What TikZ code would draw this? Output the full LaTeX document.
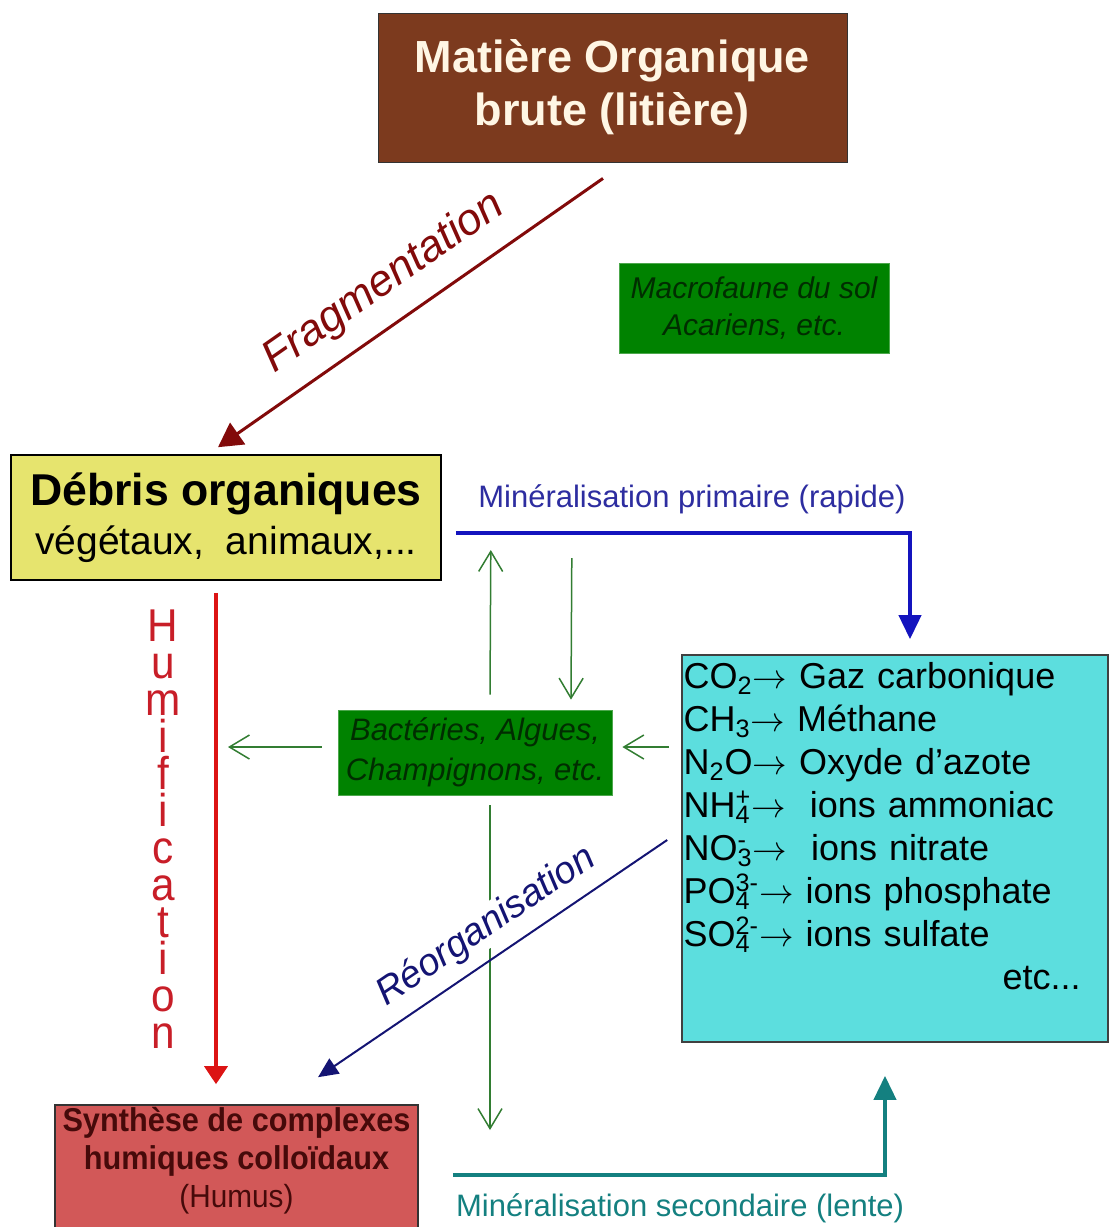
\documentclass[tikz,border=0pt]{standalone}
\usepackage{fontspec}
\setmainfont{Liberation Sans}
\newfontfamily\etroite[FakeStretch=0.92]{Liberation Sans}
\newfontfamily\serree[FakeStretch=0.93]{Liberation Sans}
\usetikzlibrary{arrows.meta,positioning}

\definecolor{brunMO}{RGB}{124,58,30}
\definecolor{cremeMO}{RGB}{255,246,228}
\definecolor{jauneDeb}{RGB}{230,228,110}
\definecolor{vertFaune}{RGB}{0,130,0}
\definecolor{vertTexte}{RGB}{0,45,0}
\definecolor{vertFin}{RGB}{50,125,50}
\definecolor{cyanMin}{RGB}{92,222,222}
\definecolor{rougeHum}{RGB}{210,88,88}
\definecolor{brunHum}{RGB}{70,10,10}
\definecolor{rougeFleche}{RGB}{220,20,20}
\definecolor{rougeTexte}{RGB}{200,30,40}
\definecolor{bordeaux}{RGB}{130,10,10}
\definecolor{bleuMin}{RGB}{20,20,190}
\definecolor{bleuTexte}{RGB}{45,45,160}
\definecolor{marine}{RGB}{20,20,115}
\definecolor{sarcelle}{RGB}{20,128,128}

% indice et exposant superposes
\newcommand{\ionchim}[2]{\ooalign{\textsubscript{#1}\cr\textsuperscript{#2}\cr}}

\begin{document}
\begin{tikzpicture}[x=0.5pt, y=-0.5pt]
        \tikzstyle{boite}=[rectangle, align=center, inner sep=2pt]
        \tikzstyle{microbes}=[boite, fill=vertFaune, draw=vertFaune!70!white, text=vertTexte]
        \tikzstyle{flechevert}=[draw=vertFin, line width=0.75pt, -{Straight Barb[length=10pt,width=12pt]}]
        \tikzstyle{grossefleche}=[line width=2pt, -{Triangle[length=12pt,width=11pt]}]
        \useasboundingbox (0,0) rectangle (1110,1227);
        \clip (0,0) rectangle (1110,1227);
        % boites
        \node [boite, fill=brunMO, draw=black!80, text=cremeMO, minimum width=234.5pt, minimum height=74.5pt, font=\bfseries\fontsize{22.5}{26.5}\selectfont] (mo) at (612.5,87.5) {Matière Organique\\brute (litière)};
        \node [microbes, minimum width=135pt, minimum height=45pt, font=\itshape\fontsize{15}{18.5}\selectfont] (faune) at (754,308) {Macrofaune du sol\\Acariens, etc.};
        \node [boite, fill=jauneDeb, draw=black, line width=0.8pt, minimum width=215pt, minimum height=62.5pt, font=\fontsize{19.5}{24.5}\selectfont] (deb) at (226,517.5) {{\bfseries\fontsize{22.3}{24.5}\selectfont Débris organiques}\\végétaux,\ \ animaux,...};
        \node [microbes, minimum width=137pt, minimum height=42.5pt, font=\itshape\fontsize{15.5}{20}\selectfont] (bact) at (475,752.5) {Bactéries, Algues,\\Champignons, etc.};
        \node [boite, fill=cyanMin, draw=black!75, line width=0.8pt, minimum width=213pt, minimum height=193.5pt] (gaz) at (895,848.5) {};
        \node [anchor=north west, inner sep=0pt, text width=198.5pt, align=left, font=\fontsize{18}{21.5}\selectfont] (gazliste) at ([xshift=1pt,yshift=-4pt]gaz.north west) {CO\textsubscript{2}$\rightarrow$ Gaz carbonique\\
CH\textsubscript{3}$\rightarrow$ Méthane\\
N\textsubscript{2}O$\rightarrow$ Oxyde d’azote\\
NH\ionchim{4}{+}$\rightarrow$\ \ ions ammoniac\\
NO\ionchim{3}{-}$\rightarrow$\ \ ions nitrate\\
PO\ionchim{4}{3-}$\rightarrow$ ions phosphate\\
SO\ionchim{4}{2-}$\rightarrow$ ions sulfate\\
\hfill etc...};
        \node [boite, fill=rougeHum, draw=black!80, line width=0.8pt, minimum width=181.5pt, minimum height=70pt] (humus) at (236.5,1175) {};
        \node [boite, text=brunHum, font=\serree\bfseries\fontsize{16.5}{19}\selectfont] (humustexte) at ([yshift=-28pt]humus.north) {Synthèse de complexes\\humiques colloïdaux\\{\mdseries\fontsize{16}{19}\selectfont(Humus)}};
        \node [text=rougeTexte, align=center, inner sep=0pt, font=\etroite\fontsize{23}{18.5}\selectfont] (humif) at (163,829) {H\\u\\m\\i\\f\\i\\c\\a\\t\\i\\o\\n};
        \coordinate (versHum) at (228,747);
        \coordinate (versBas) at (490,1130);
        % fleches fines des micro-organismes
        \draw [flechevert] ([xshift=7.5pt,yshift=7.5pt]bact.north) -- ([xshift=24.5pt,yshift=-16.25pt]deb.east);
        \draw [flechevert] ([xshift=65pt,yshift=-20.25pt]deb.east) -- ([xshift=48pt,yshift=5pt]bact.north);
        \draw [flechevert] ([xshift=-8pt,yshift=2.75pt]bact.west) -- (versHum);
        \draw [flechevert] ([xshift=-6pt,yshift=50.75pt]gaz.west) -- ([xshift=5pt,yshift=2.75pt]bact.east);
        \draw [flechevert] ([xshift=7.5pt,yshift=-5pt]bact.south) -- (versBas);
        % grandes fleches
        \draw [draw=bordeaux, line width=1.5pt, -{Triangle[length=12pt,width=13pt]}] ([xshift=-4.75pt,yshift=-8pt]mo.south) -- ([xshift=-4pt,yshift=3.5pt]deb.north) node [pos=0.51, sloped, above=5.5pt, text=bordeaux, font=\itshape\fontsize{22}{24}\selectfont] (frag) {Fragmentation};
        \draw [draw=rougeFleche, line width=1.75pt, -{Triangle[length=9pt,width=11.5pt]}] ([xshift=-5pt,yshift=-6pt]deb.south) -- ([xshift=-10.25pt,yshift=10pt]humus.north);
        \draw [grossefleche, draw=bleuMin] ([xshift=7pt,yshift=-7.75pt]deb.east) -| ([xshift=7.5pt,yshift=7.5pt]gaz.north) node [pos=0.26, above=5pt, text=bleuTexte, font=\fontsize{15.5}{18}\selectfont] (minprim) {Minéralisation primaire (rapide)};
        \draw [grossefleche, draw=sarcelle] ([xshift=17pt]humus.east) -| ([xshift=-5pt,yshift=-16.5pt]gaz.south) node [pos=0.263, below=5pt, text=sarcelle, font=\fontsize{15.5}{18}\selectfont] (minsec) {Minéralisation secondaire (lente)};
        \draw [draw=marine, line width=1pt, -{Triangle[length=10pt,width=9pt]}] ([xshift=-7pt,yshift=4.25pt]gaz.west) -- ([xshift=40.75pt,yshift=13.5pt]humus.north) node [pos=0.47, sloped, above=4.5pt, fill=white, inner sep=1pt, text=marine, font=\itshape\fontsize{19}{21}\selectfont] (reorg) {Réorganisation};
    \end{tikzpicture}
\end{document}
